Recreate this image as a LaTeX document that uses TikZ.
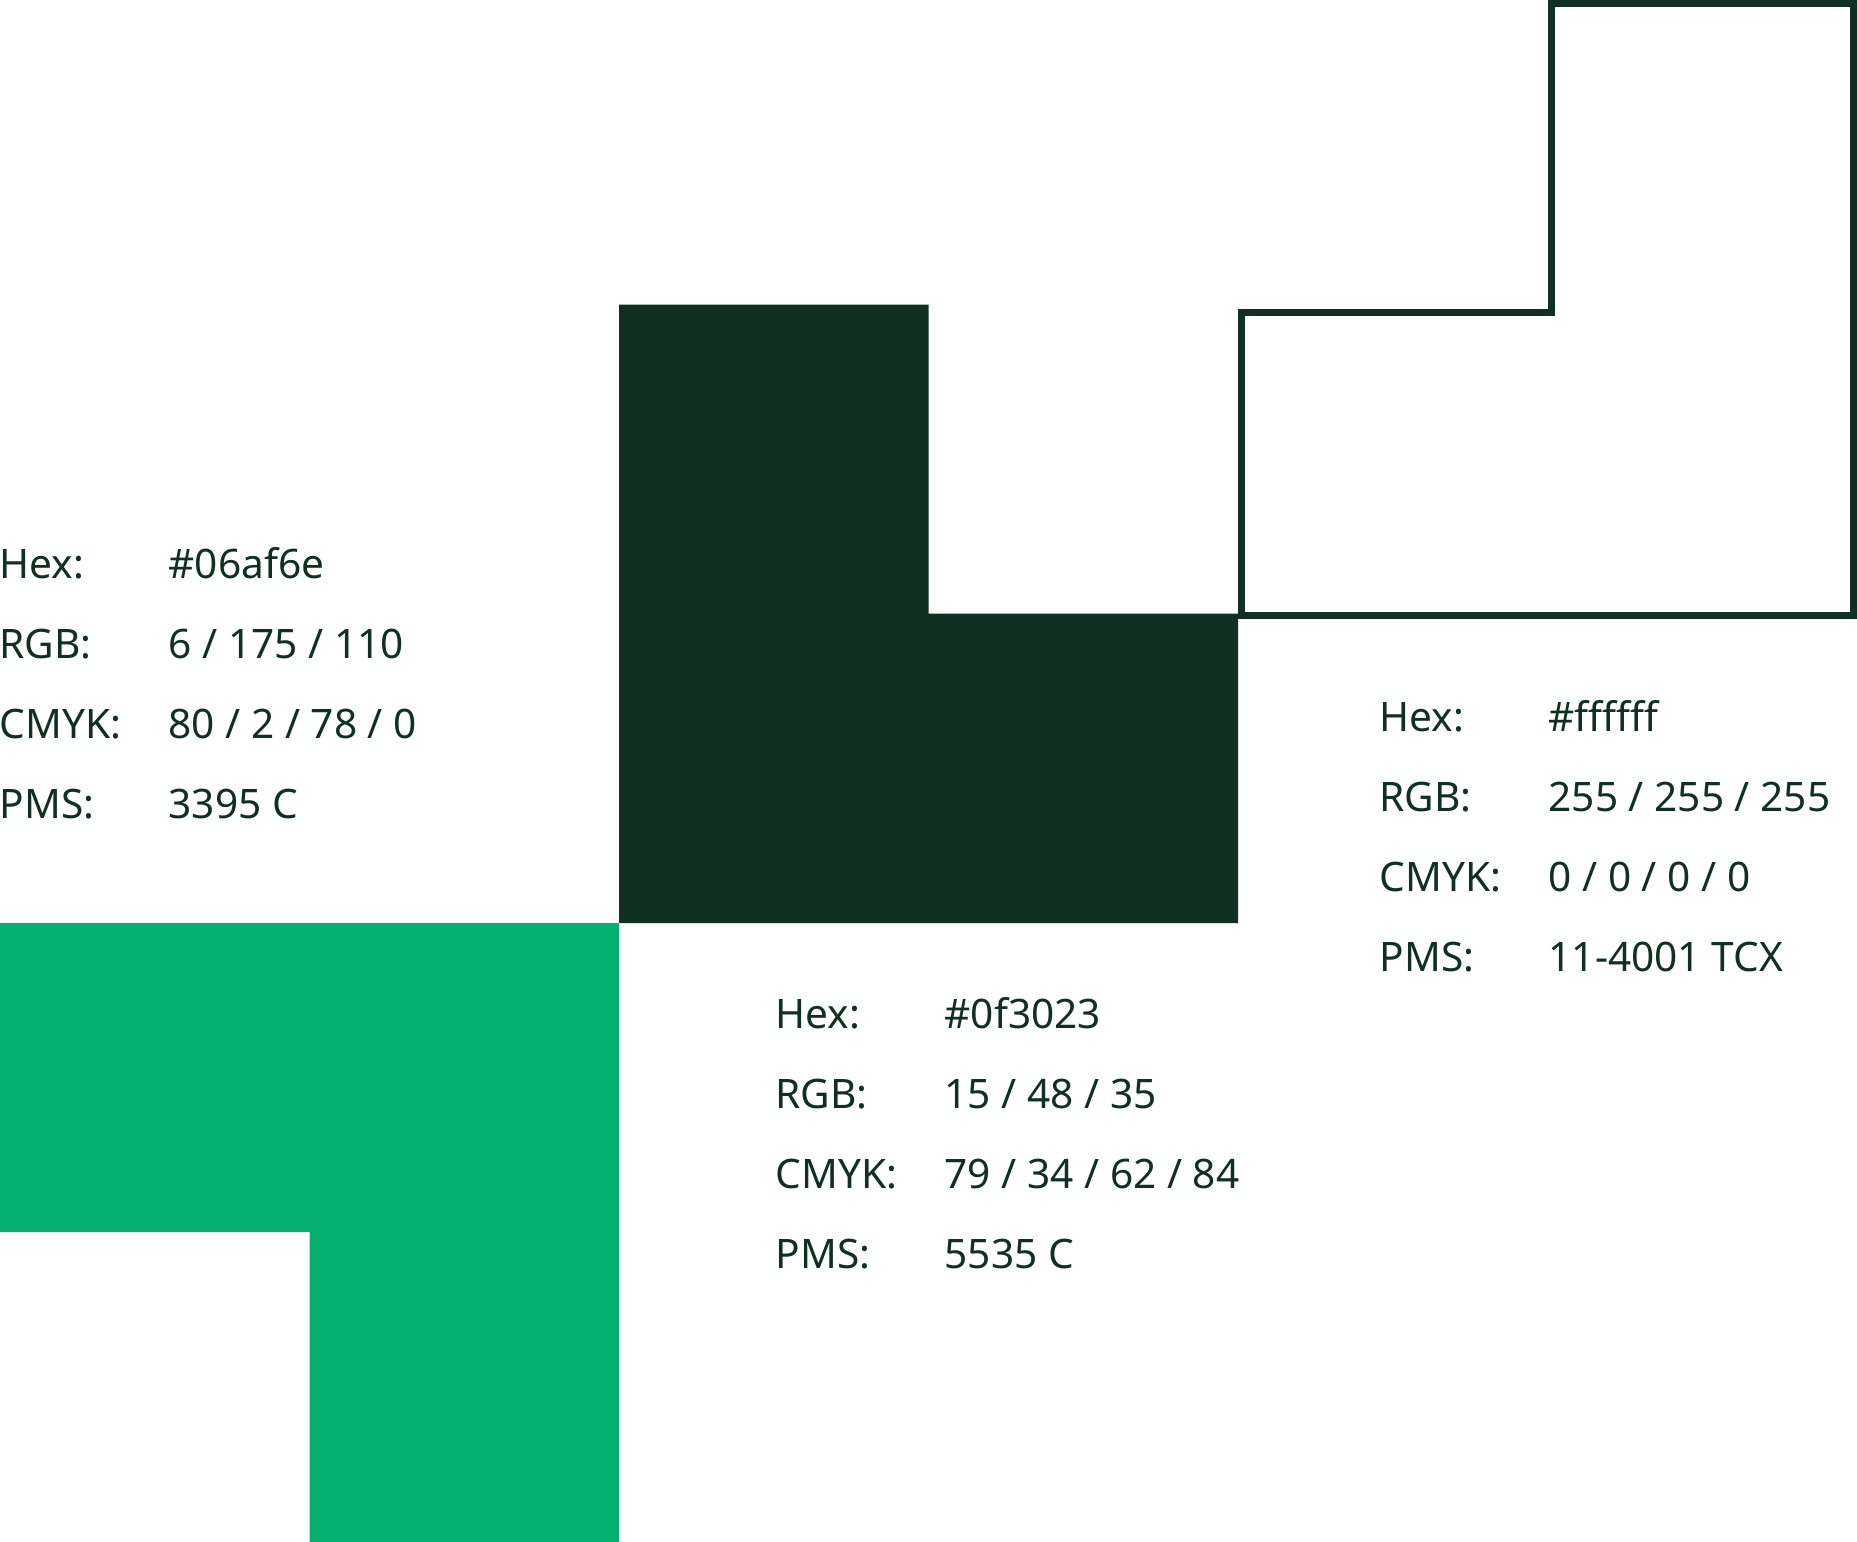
\documentclass[tikz,border=0pt]{standalone}
\usepackage{fontspec}
\setmainfont{Noto Sans}
\definecolor{brandgreen}{HTML}{06AF6E}
\definecolor{branddark}{HTML}{0F3023}
\tikzset{
  lbl/.style={anchor=base west, inner sep=0pt, text=branddark, font=\fontsize{11.55}{13}\selectfont},
  val/.style={lbl}
}
\begin{document}
\begin{tikzpicture}[x=0.01cm,y=-0.01cm]
\useasboundingbox (0,0) rectangle (1857,1542);
\fill[white] (0,0) rectangle (1857,1542);
% green L
\fill[brandgreen] (0,923) -- (619,923) -- (619,1542) -- (309.5,1542) -- (309.5,1232) -- (0,1232) -- cycle;
% dark L
\fill[branddark] (619,304.5) -- (928.5,304.5) -- (928.5,613.5) -- (1238,613.5) -- (1238,923) -- (619,923) -- cycle;
% outline L
\draw[branddark, line width=0.068cm, line join=miter]
  (1241.4,312.3) -- (1551.1,312.3) -- (1551.1,3.4) -- (1853.6,3.4) -- (1853.6,615.2) -- (1241.4,615.2) -- cycle;
% left block
\node[lbl] (gH) at (-1,578.5) {Hex:};
\node[val] (gHv) at (168,578.5) {\#06af6e};
\node[lbl] (gR) at (-1,658.5) {RGB:};
\node[val] (gRv) at (168,658.5) {6 / 175 / 110};
\node[lbl] (gC) at (-1,738.5) {CMYK:};
\node[val] (gCv) at (168,738.5) {80 / 2 / 78 / 0};
\node[lbl] (gP) at (-1,818.5) {PMS:};
\node[val] (gPv) at (168,818.5) {3395 C};
% middle block
\node[lbl] (dH) at (775,1028.8) {Hex:};
\node[val] (dHv) at (944,1028.8) {\#0f3023};
\node[lbl] (dR) at (775,1108.8) {RGB:};
\node[val] (dRv) at (944,1108.8) {15 / 48 / 35};
\node[lbl] (dC) at (775,1188.8) {CMYK:};
\node[val] (dCv) at (944,1188.8) {79 / 34 / 62 / 84};
\node[lbl] (dP) at (775,1268.8) {PMS:};
\node[val] (dPv) at (944,1268.8) {5535 C};
% right block
\node[lbl] (wH) at (1379,731.5) {Hex:};
\node[val] (wHv) at (1548,731.5) {\#ffffff};
\node[lbl] (wR) at (1379,811.5) {RGB:};
\node[val] (wRv) at (1548,811.5) {255 / 255 / 255};
\node[lbl] (wC) at (1379,891.5) {CMYK:};
\node[val] (wCv) at (1548,891.5) {0 / 0 / 0 / 0};
\node[lbl] (wP) at (1379,971.5) {PMS:};
\node[val] (wPv) at (1548,971.5) {11-4001 TCX};
\end{tikzpicture}
\end{document}
